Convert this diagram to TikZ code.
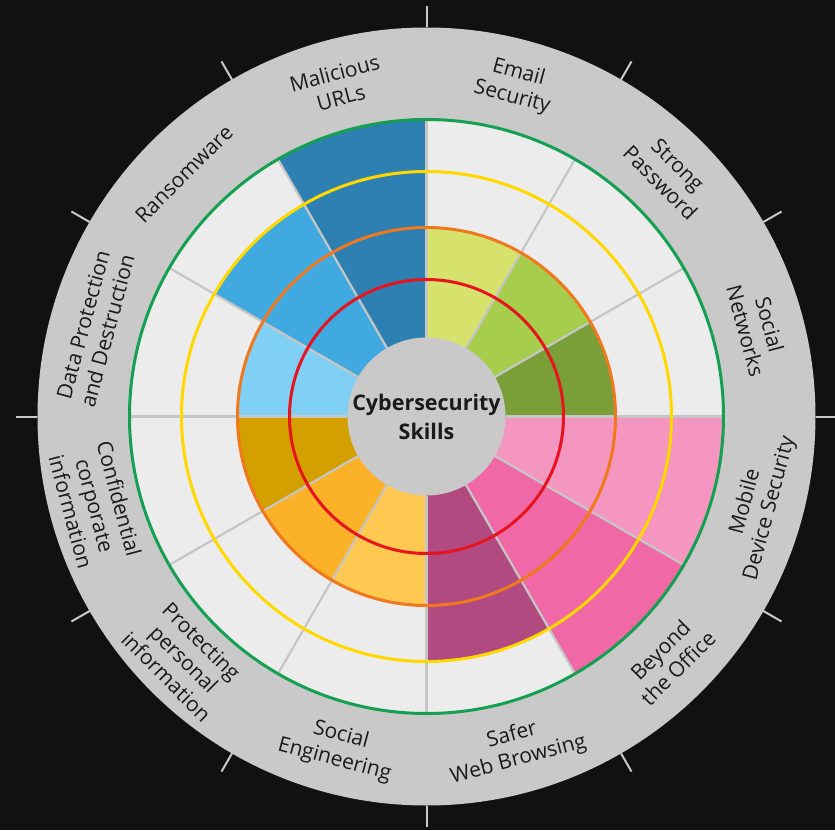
\documentclass[tikz,border=0pt]{standalone}
\usepackage{fontspec}
\setmainfont{Open Sans}
\begin{document}
\definecolor{bg}{HTML}{111111}
\definecolor{band}{HTML}{C9C9C9}
\definecolor{empty}{HTML}{ECECEC}
\definecolor{divider}{HTML}{C6C6C6}
\definecolor{ink}{HTML}{1A1A1A}
\definecolor{ringgreen}{HTML}{14A050}
\definecolor{ringyellow}{HTML}{FFD800}
\definecolor{ringorange}{HTML}{F0781E}
\definecolor{ringred}{HTML}{E6141E}
\definecolor{cEmail}{HTML}{D6E26C}
\definecolor{cPassword}{HTML}{A6CE4C}
\definecolor{cSocialNet}{HTML}{7A9E38}
\definecolor{cMobile}{HTML}{F496C0}
\definecolor{cBeyond}{HTML}{F068A5}
\definecolor{cSafer}{HTML}{B04A80}
\definecolor{cSocialEng}{HTML}{FFC850}
\definecolor{cProtect}{HTML}{FBB228}
\definecolor{cConfid}{HTML}{D4A000}
\definecolor{cData}{HTML}{80D0F5}
\definecolor{cRansom}{HTML}{40AAE0}
\definecolor{cMalicious}{HTML}{2E80B2}
\begin{tikzpicture}[x=1pt,y=1pt,
  ring/.style={line width=3pt},
  spoke/.style={draw=divider,line width=2.2pt},
  tickmark/.style={draw=band,line width=2pt},
  label/.style={text=ink,align=center,font=\fontsize{21}{25}\selectfont,inner sep=0pt},
  hub/.style={text=ink,align=center,font=\bfseries\fontsize{21.5}{29}\selectfont,inner sep=0pt}]
% canvas
\fill[bg] (-426.5,-413.5) rectangle (408.5,416.5);
\useasboundingbox (-426.5,-413.5) rectangle (408.5,416.5);
% outer band and inner field
\fill[band] (0,0) circle[radius=389];
\fill[empty] (0,0) circle[radius=297];
% coloured sectors: start angle / end angle / radius / colour
\foreach \a/\b/\r/\c in {60/90/189/cEmail, 30/60/189/cPassword, 0/30/189/cSocialNet,
    -30/0/297/cMobile, -60/-30/297/cBeyond, -90/-60/245/cSafer,
    -120/-90/189/cSocialEng, -150/-120/189/cProtect, -180/-150/189/cConfid,
    150/180/189/cData, 120/150/245/cRansom, 90/120/297/cMalicious}
  \fill[\c] (0,0) -- (\a:\r) arc[start angle=\a, end angle=\b, radius=\r] -- cycle;
% spokes between sectors
\foreach \t in {0,30,...,330}
  \draw[spoke] (\t:79) -- (\t:297);
% level rings
\draw[ring,ringred] (0,0) circle[radius=137];
\draw[ring,ringorange] (0,0) circle[radius=189];
\draw[ring,ringyellow] (0,0) circle[radius=245];
\draw[ring,ringgreen] (0,0) circle[radius=297];
% hub
\fill[band] (0,0) circle[radius=79];
\node[hub] (hub) at (0,0) {Cybersecurity\\Skills};
% tick marks on the rim
\foreach \t in {0,30,...,330}
  \draw[tickmark] (\t:389) -- (\t:410);
% topic labels: angle / rotation / text
\foreach \t/\rot/\txt [count=\i] in {
    75/-15/{Email\\Security},
    45/-45/{Strong\\Password},
    15/-75/{Social\\Networks},
    -15/75/{Mobile\\Device Security},
    -45/45/{Beyond\\the Office},
    -75/15/{Safer\\Web Browsing},
    -105/-15/{Social\\Engineering},
    -135/-45/{Protecting\\personal\\information},
    -165/-75/{Confidential\\corporate\\information},
    165/75/{Data Protection\\and Destruction},
    135/45/{Ransomware},
    105/15/{Malicious\\URLs}}
  \node[label,rotate=\rot] (topic\i) at (\t:343) {\txt};
\end{tikzpicture}
\end{document}
